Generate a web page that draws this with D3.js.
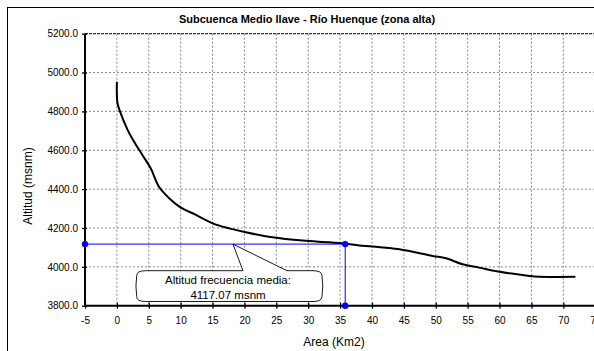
<!DOCTYPE html>
<html>
<head>
<meta charset="utf-8">
<script src="https://cdn.jsdelivr.net/npm/d3@7"></script>
<style>
  html, body { margin: 0; padding: 0; background: #fff; }
  svg { display: block; font-family: Arial, "Liberation Sans", sans-serif; }
</style>
</head>
<body>
<div id="chart"></div>
<script>
// ---- Data ----
const areaKm2 = [0, 0.1, 0.6, 1.7, 2.7, 4.0, 5.3, 6.6, 8.2, 9.8, 12.4, 15, 17.6, 20.2, 24.4, 29.1,
  33.3, 35.8, 38, 40.1, 44.3, 49.5, 51.6, 54.2, 56.8, 60, 64.7, 66.2, 71.9];
const altitud = [4952, 4842, 4790, 4704, 4644, 4576, 4507, 4412, 4353, 4310, 4267, 4224, 4198, 4178, 4152, 4135,
  4126, 4119, 4110, 4105, 4090, 4056, 4044, 4013, 3996, 3975, 3953, 3949, 3949];
const xTicks = d3.range(-5, 76, 5);
const yTicks = d3.range(3800, 5201, 200);
const mediaAlt = 4117.07;
const mediaArea = 35.8;
const calloutArea = 18.2;
const calloutLines = ['Altitud frecuencia media:', '4117.07 msnm'];
const title = 'Subcuenca Medio llave - Río Huenque (zona alta)';

const W = 594, H = 351;
const plot = { left: 85, top: 33.7, right: 595.2, bottom: 305.7 };

const svg = d3.select('#chart').append('svg')
  .attr('width', W).attr('height', H);

svg.append('rect').attr('width', W).attr('height', H).attr('fill', '#fff');
// chart border (continues past the cropped edge)
svg.append('rect')
  .attr('x', 7.5).attr('y', 7.5).attr('width', 700).attr('height', 500)
  .attr('fill', 'none').attr('stroke', '#000').attr('stroke-width', 1);

const x = d3.scaleLinear().domain([-5, 75]).range([plot.left, plot.right]);
const y = d3.scaleLinear().domain([3800, 5200]).range([plot.bottom, plot.top]);

// ---- Grid ----
const grid = svg.append('g');
grid.selectAll('line.v')
  .data(xTicks.filter(d => d > -5))
  .enter().append('line')
  .attr('x1', d => x(d)).attr('x2', d => x(d))
  .attr('y1', plot.top).attr('y2', plot.bottom)
  .attr('stroke', '#8a8a8a').attr('stroke-dasharray', '2,2');
grid.selectAll('line.h')
  .data(yTicks.filter(d => d > 3800 && d < 5200))
  .enter().append('line')
  .attr('x1', plot.left).attr('x2', plot.right)
  .attr('y1', d => y(d)).attr('y2', d => y(d))
  .attr('stroke', '#8a8a8a').attr('stroke-dasharray', '2,2');
// top plot edge
grid.append('line')
  .attr('x1', plot.left).attr('x2', plot.right)
  .attr('y1', y(5200)).attr('y2', y(5200))
  .attr('stroke', '#333').attr('stroke-width', 1.2).attr('stroke-dasharray', '3,1');

// ---- Axes ----
const xAxis = svg.append('g')
  .attr('transform', `translate(0,${plot.bottom})`)
  .call(d3.axisBottom(x).tickValues(xTicks).tickSize(3).tickPadding(8).tickFormat(d => String(d)));
xAxis.selectAll('.tick line').attr('y1', -3).attr('y2', 3).attr('stroke-width', 1.3);
xAxis.select('.domain').attr('stroke-width', 2).attr('d', `M${plot.left},0H${plot.right}`);

const yAxis = svg.append('g')
  .attr('transform', `translate(${plot.left},0)`)
  .call(d3.axisLeft(y).tickValues(yTicks).tickSize(3).tickPadding(4).tickFormat(d => d.toFixed(1)));
yAxis.selectAll('.tick line').attr('x1', -3).attr('x2', 2).attr('stroke-width', 1.3);
yAxis.select('.domain').attr('stroke-width', 2).attr('d', `M0,${plot.top}V${plot.bottom}`);

svg.selectAll('.tick text')
  .style('font-size', '10px')
  .style('font-family', 'Arial, "Liberation Sans", sans-serif')
  .attr('fill', '#000');

// ---- Curve ----
const pts = areaKm2.map((a, i) => [a, altitud[i]]);
svg.append('path')
  .datum(pts)
  .attr('fill', 'none')
  .attr('stroke', '#000')
  .attr('stroke-width', 2)
  .attr('d', d3.line().x(d => x(d[0])).y(d => y(d[1])).curve(d3.curveCatmullRom.alpha(0.5)));

// ---- Mean altitude marker (blue) ----
const blue = [[-5, mediaAlt], [mediaArea, mediaAlt], [mediaArea, 3800]];
svg.append('path')
  .datum(blue)
  .attr('fill', 'none').attr('stroke', '#0000ff').attr('stroke-width', 1)
  .attr('d', d3.line().x(d => x(d[0])).y(d => y(d[1])));
svg.selectAll('circle.m')
  .data(blue)
  .enter().append('circle')
  .attr('cx', d => x(d[0])).attr('cy', d => y(d[1])).attr('r', 3.2)
  .attr('fill', '#0000ff');

// ---- Callout ----
const tipX = x(calloutArea), tipY = y(mediaAlt);
const bx0 = 136.7, bx1 = 322, by0 = 270.7, by1 = 301.5;
const rx = 9, ry = 5;
const calloutPath = [
  `M${bx0 + rx},${by0}`,
  `L${tipX + 10},${by0}`,
  `L${tipX},${tipY}`,
  `L${tipX + 54},${by0}`,
  `L${bx1 - rx},${by0}`,
  `Q${bx1},${by0} ${bx1},${by0 + ry}`,
  `Q${bx1 + 1.5},${(by0 + by1) / 2} ${bx1},${by1 - ry}`,
  `Q${bx1},${by1} ${bx1 - rx},${by1}`,
  `L${bx0 + rx},${by1}`,
  `Q${bx0},${by1} ${bx0},${by1 - ry}`,
  `Q${bx0 - 1.5},${(by0 + by1) / 2} ${bx0},${by0 + ry}`,
  `Q${bx0},${by0} ${bx0 + rx},${by0}`,
  'Z'
].join(' ');
svg.append('path')
  .attr('d', calloutPath)
  .attr('fill', '#fff').attr('stroke', '#000').attr('stroke-width', 0.9);
svg.selectAll('text.callout')
  .data(calloutLines)
  .enter().append('text')
  .attr('x', 228).attr('y', (d, i) => 283.5 + i * 15)
  .attr('text-anchor', 'middle')
  .style('font-size', '11.5px')
  .text(d => d);

// ---- Titles ----
svg.append('text')
  .attr('x', 307).attr('y', 23)
  .attr('text-anchor', 'middle')
  .style('font-size', '11px').style('font-weight', 'bold')
  .text(title);

svg.append('text')
  .attr('x', 334).attr('y', 346)
  .attr('text-anchor', 'middle')
  .style('font-size', '12px')
  .text('Area (Km2)');

svg.append('text')
  .attr('transform', 'rotate(-90)')
  .attr('x', -186).attr('y', 31.5)
  .attr('text-anchor', 'middle')
  .style('font-size', '12px')
  .text('Altitud (msnm)');
</script>
</body>
</html>
